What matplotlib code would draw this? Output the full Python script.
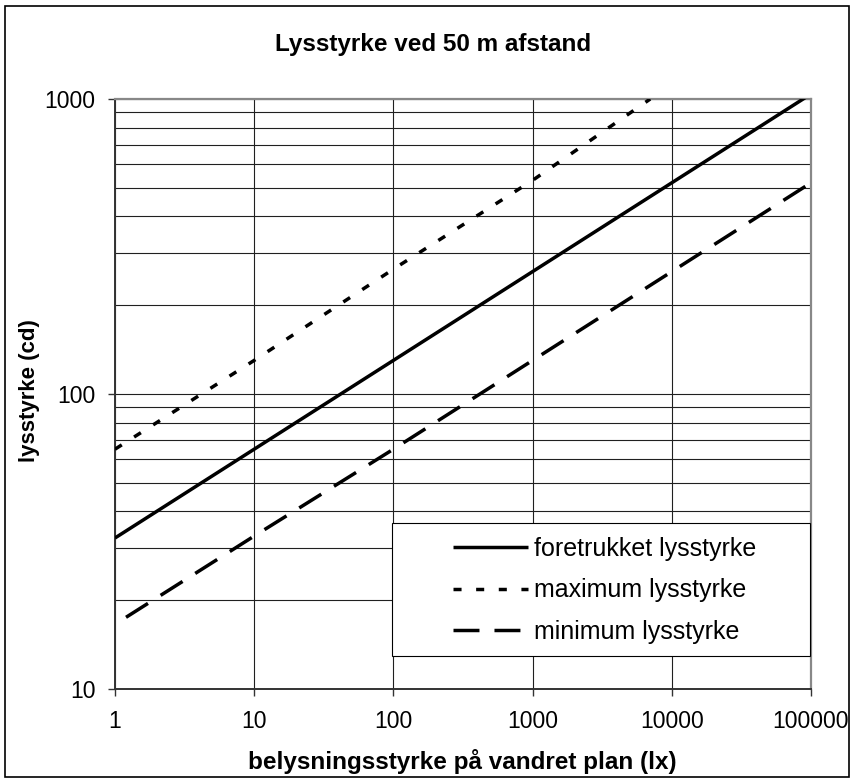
import matplotlib
matplotlib.use("Agg")
import matplotlib.pyplot as plt
from matplotlib.patches import Rectangle
from matplotlib.ticker import FixedLocator, FixedFormatter, LogLocator, NullFormatter

plt.rcParams['font.family'] = ['Liberation Sans', 'DejaVu Sans']
plt.rcParams['lines.scale_dashes'] = False

title = "Lysstyrke ved 50 m afstand"
xlabel = "belysningsstyrke på vandret plan (lx)"
ylabel = "lysstyrke (cd)"

x_pref = [1, 10, 100, 1000, 10000, 100000]
y_pref = [32.5, 65, 130, 260, 520, 1040]

x_max = [1, 10, 100, 1000, 7000]
y_max = [65, 130, 265, 530, 1000]

x_min = [1.2, 10, 100, 1000, 10000, 100000]
y_min = [17.5, 33, 65, 130, 260, 520]

labels = ["foretrukket lysstyrke", "maximum lysstyrke", "minimum lysstyrke"]

xticks = [1, 10, 100, 1000, 10000, 100000]
xticklabels = ["1", "10", "100", "1000", "10000", "100000"]
yticks = [10, 100, 1000]
yticklabels = ["10", "100", "1000"]

fig = plt.figure(figsize=(8.54, 7.81), dpi=100)
ax = fig.add_axes([115/854, 1-689/781, 696/854, 590/781])

lw = 2.5
ax.plot(x_pref, y_pref, color='black', lw=lw, solid_capstyle='butt', label=labels[0], zorder=3)
l2, = ax.plot(x_max, y_max, color='black', lw=lw, label=labels[1], zorder=3)
l2.set_dashes((5.8, 10.5))
l3, = ax.plot(x_min, y_min, color='black', lw=lw, label=labels[2], zorder=3)
l3.set_dashes((18.7, 10.8))
for l in ax.lines:
    l.set_dash_capstyle('butt')

ax.set_xscale('log')
ax.set_yscale('log')
ax.set_xlim(1, 100000)
ax.set_ylim(10, 1000)

ax.xaxis.set_major_locator(FixedLocator(xticks))
ax.xaxis.set_major_formatter(FixedFormatter(xticklabels))
ax.xaxis.set_minor_locator(FixedLocator([]))
ax.yaxis.set_major_locator(FixedLocator(yticks))
ax.yaxis.set_major_formatter(FixedFormatter(yticklabels))
ax.yaxis.set_minor_locator(LogLocator(base=10, subs=range(2, 10)))
ax.yaxis.set_minor_formatter(NullFormatter())

ax.tick_params(axis='both', which='major', direction='out', length=5, width=1, color='#333333',
               labelsize=16.5)
ax.tick_params(axis='y', which='major', pad=9)
ax.tick_params(axis='x', which='major', pad=10)
ax.tick_params(axis='y', which='minor', length=0)

ax.grid(True, which='major', axis='both', color='#202020', lw=0.8)
ax.grid(True, which='minor', axis='y', color='#202020', lw=0.8)
ax.set_axisbelow(True)

for s in ['top', 'right']:
    ax.spines[s].set_color('#888888')
    ax.spines[s].set_linewidth(1.6)
for s in ['left', 'bottom']:
    ax.spines[s].set_color('#333333')
    ax.spines[s].set_linewidth(1.4)

fig.text(433/854, 1-44/781, title, ha='center', va='center', fontsize=17.5, fontweight='bold')
fig.text(462/854, 1-761/781, xlabel, ha='center', va='center', fontsize=17.5, fontweight='bold')
fig.text(30/854, 1-391/781, ylabel, ha='center', va='center', fontsize=16, fontweight='bold', rotation=90)

# legend box
x0 = (392-115)/696
y0 = (689-656)/590
w = (810-392)/696
h = (656-523)/590
ax.add_patch(Rectangle((x0, y0), w, h, transform=ax.transAxes, facecolor='white',
                       edgecolor='black', lw=0.8, zorder=4, clip_on=False))
leg = ax.legend(loc='upper left', bbox_to_anchor=((453-115)/696, (689-537)/590),
                frameon=False, fontsize=18, borderpad=0, borderaxespad=0,
                handlelength=3.0, handletextpad=0.24, labelspacing=0.7)
leg.set_zorder(5)

fig.add_artist(Rectangle((5/854, 1-777/781), 844/854, 771/781, transform=fig.transFigure,
                         facecolor='none', edgecolor='black', lw=1.2))

fig.savefig("out.png", dpi=100)
